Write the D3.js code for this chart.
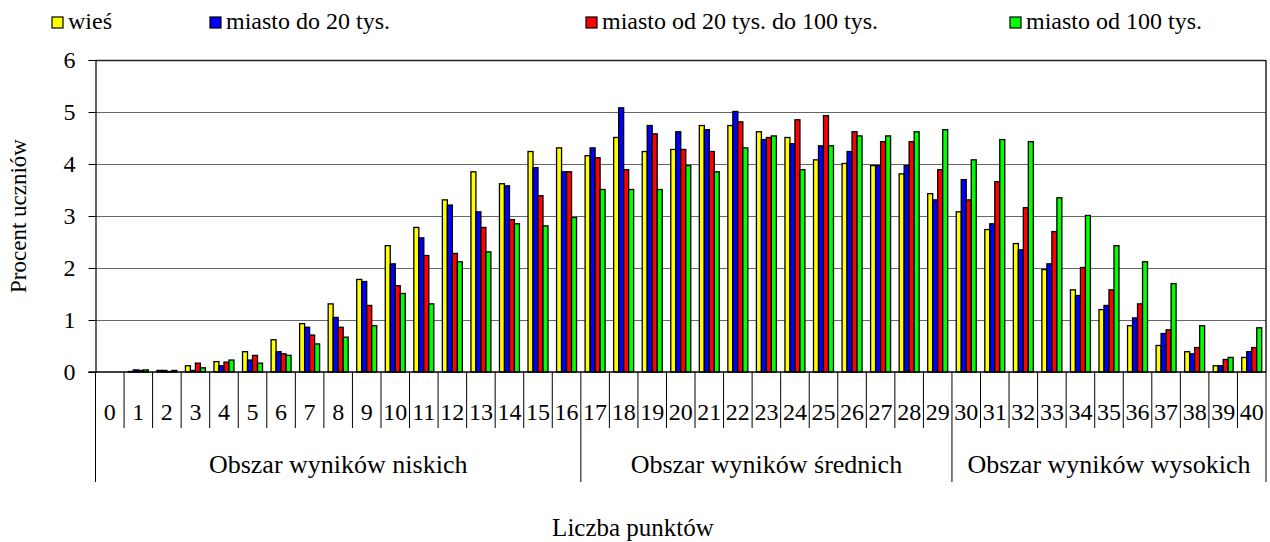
<!DOCTYPE html>
<html>
<head>
<meta charset="utf-8">
<script src="https://cdn.jsdelivr.net/npm/d3@7"></script>
<style>
    body { margin: 0; background: #fff; }
    #chart { width: 1270px; height: 542px; }
    svg text { font-family: "Liberation Serif", "Times New Roman", serif !important; fill: #000; }
</style>
</head>
<body>
<div id="chart"></div>
<script>
// punkty 0..40
let categories = ["0","1","2","3","4","5","6","7","8","9","10","11","12","13","14","15","16","17","18","19","20",
    "21","22","23","24","25","26","27","28","29","30","31","32","33","34","35","36","37","38","39","40"];

let seriesNames = ["wieś", "miasto do 20 tys.", "miasto od 20 tys. do 100 tys.", "miasto od 100 tys."];
let seriesColors = ["#ffff00", "#0000ff", "#ff0000", "#00ff00"];

let wies = [0, 0.01, 0.03, 0.12, 0.20, 0.39, 0.62, 0.93, 1.31, 1.78, 2.43, 2.78, 3.31, 3.85, 3.62, 4.24, 4.31,
    4.16, 4.51, 4.24, 4.28, 4.74, 4.74, 4.62, 4.51, 4.08, 4.01, 3.97, 3.81, 3.43,
    3.08, 2.74, 2.47, 1.97, 1.58, 1.20, 0.89, 0.51, 0.39, 0.12, 0.28];
let miastoDo20 = [0, 0.04, 0.03, 0.03, 0.12, 0.23, 0.39, 0.86, 1.05, 1.74, 2.08, 2.58, 3.21, 3.08, 3.58, 3.93, 3.85,
    4.31, 5.08, 4.74, 4.62, 4.66, 5.01, 4.47, 4.39, 4.35, 4.24, 3.97, 3.97, 3.31,
    3.70, 2.85, 2.35, 2.08, 1.47, 1.28, 1.04, 0.74, 0.35, 0.12, 0.39];
let miasto20do100 = [0, 0.03, 0.01, 0.17, 0.19, 0.32, 0.35, 0.71, 0.86, 1.28, 1.66, 2.24, 2.28, 2.78, 2.93, 3.39, 3.85,
    4.12, 3.89, 4.58, 4.28, 4.24, 4.81, 4.51, 4.85, 4.93, 4.62, 4.43, 4.43, 3.89,
    3.31, 3.66, 3.16, 2.70, 2.01, 1.58, 1.31, 0.81, 0.47, 0.24, 0.47];
let miastoOd100 = [0, 0.04, 0.03, 0.08, 0.23, 0.17, 0.32, 0.54, 0.67, 0.89, 1.51, 1.31, 2.12, 2.31, 2.85, 2.81, 2.97,
    3.51, 3.51, 3.51, 3.97, 3.85, 4.31, 4.54, 3.89, 4.35, 4.54, 4.54, 4.62, 4.66,
    4.08, 4.47, 4.43, 3.35, 3.01, 2.43, 2.12, 1.70, 0.89, 0.28, 0.85];

let yTicks = [0, 1, 2, 3, 4, 5, 6];

let groupLabels = ["Obszar wyników niskich", "Obszar wyników średnich", "Obszar wyników wysokich"];
let groupFirst = ["0", "17", "30"];
let groupLast = ["16", "29", "40"];

let yTitle = "Procent uczniów";
let xTitle = "Liczba punktów";

const SERIF = "'Liberation Serif', 'Times New Roman', serif";


class GroupedBarVis {
    constructor(parentElement) {
        this.parentElement = parentElement;
        this.series = [wies, miastoDo20, miasto20do100, miastoOd100];
    }

    initVis() {
        let vis = this;

        vis.margin = {top: 60, right: 4, bottom: 170, left: 95.5};
        vis.width = 1270 - vis.margin.left - vis.margin.right;
        vis.height = 542 - vis.margin.top - vis.margin.bottom;

        vis.root = d3.select("#" + vis.parentElement).append("svg")
            .attr("width", 1270)
            .attr("height", 542);

        vis.svg = vis.root.append("g")
            .attr("transform", "translate(" + vis.margin.left + "," + vis.margin.top + ")");

        vis.x = d3.scaleBand()
            .domain(categories)
            .range([0, vis.width]);

        vis.y = d3.scaleLinear()
            .domain([0, 6])
            .range([vis.height, 0]);

        vis.wrangleData();
    }

    wrangleData() {
        let vis = this;

        vis.displayData = [];
        categories.forEach((c, i) => {
            vis.series.forEach((s, k) => {
                vis.displayData.push({cat: c, k: k, value: s[i]});
            });
        });

        vis.updateVis();
    }

    updateVis() {
        let vis = this;
        let bw = vis.x.bandwidth();
        let step = bw * 0.175;

        // siatka
        vis.svg.append("g")
            .selectAll("line")
            .data(yTicks.slice(1))
            .enter()
            .append("line")
            .attr("x1", 0)
            .attr("x2", vis.width)
            .attr("y1", d => Math.round(vis.y(d)) + 0.5)
            .attr("y2", d => Math.round(vis.y(d)) + 0.5)
            .attr("stroke", d => d === 6 ? "#222" : "#666")
            .attr("stroke-width", d => d === 6 ? 1.5 : 1);

        vis.svg.append("line")
            .attr("x1", vis.width).attr("x2", vis.width)
            .attr("y1", 0).attr("y2", vis.height)
            .attr("stroke", "#222")
            .attr("stroke-width", 1.5);

        // słupki
        vis.svg.append("g")
            .selectAll("rect")
            .data(vis.displayData)
            .enter()
            .append("rect")
            .attr("x", d => vis.x(d.cat) + bw / 2 - 2 * step + d.k * step)
            .attr("y", d => vis.y(d.value))
            .attr("width", step)
            .attr("height", d => vis.y(0) - vis.y(d.value))
            .attr("fill", d => seriesColors[d.k])
            .attr("stroke", "#000")
            .attr("stroke-width", 1.3);

        // oś Y
        let yAxis = vis.svg.append("g")
            .attr("class", "y-axis")
            .call(d3.axisLeft(vis.y).tickValues(yTicks).tickSize(7).tickPadding(13).tickFormat(d3.format("d")));
        yAxis.attr("font-family", SERIF);
        yAxis.select(".domain").attr("stroke", "#000").attr("stroke-width", 1.2);
        yAxis.selectAll(".tick line").attr("stroke", "#000");
        yAxis.selectAll(".tick text")
            .attr("font-family", SERIF)
            .style("font-size", "24px");

        // oś X: linia zero
        vis.svg.append("line")
            .attr("x1", -7).attr("x2", vis.width)
            .attr("y1", vis.height).attr("y2", vis.height)
            .attr("stroke", "#000")
            .attr("stroke-width", 1.5);

        let bounds = categories.concat(["end"]);
        let starts = new Set(groupFirst);
        let xPos = c => c === "end" ? vis.width : vis.x(c);

        vis.svg.append("g")
            .selectAll("line")
            .data(bounds)
            .enter()
            .append("line")
            .attr("x1", d => xPos(d))
            .attr("x2", d => xPos(d))
            .attr("y1", vis.height)
            .attr("y2", d => (starts.has(d) || d === "end") ? vis.height + 110 : vis.height + 56)
            .attr("stroke", "#000")
            .attr("stroke-width", 1);

        vis.svg.append("g")
            .selectAll("text")
            .data(categories)
            .enter()
            .append("text")
            .attr("x", d => vis.x(d) + bw / 2)
            .attr("y", vis.height + 48)
            .attr("text-anchor", "middle")
            .attr("font-family", SERIF)
            .style("font-size", "24px")
            .text(d => d);

        vis.svg.append("g")
            .selectAll("text")
            .data(groupLabels)
            .enter()
            .append("text")
            .attr("x", (d, i) => (vis.x(groupFirst[i]) + vis.x(groupLast[i]) + bw) / 2)
            .attr("y", vis.height + 101)
            .attr("text-anchor", "middle")
            .attr("font-family", SERIF)
            .style("font-size", "26px")
            .text(d => d);

        // tytuły osi
        vis.root.append("text")
            .attr("transform", "translate(26," + (vis.margin.top + vis.height / 2) + ") rotate(-90)")
            .attr("text-anchor", "middle")
            .attr("font-family", SERIF)
            .style("font-size", "23px")
            .text(yTitle);

        vis.root.append("text")
            .attr("x", 633)
            .attr("y", 536)
            .attr("text-anchor", "middle")
            .attr("font-family", SERIF)
            .style("font-size", "25px")
            .text(xTitle);

        // legenda
        let legendX = [52, 210, 586, 1010];
        let legend = vis.root.append("g")
            .selectAll("g")
            .data(seriesNames)
            .enter()
            .append("g")
            .attr("transform", (d, i) => "translate(" + legendX[i] + ",17)");
        legend.append("rect")
            .attr("width", 11)
            .attr("height", 11)
            .attr("fill", (d, i) => seriesColors[i])
            .attr("stroke", "#000")
            .attr("stroke-width", 1.2);
        legend.append("text")
            .attr("x", 16)
            .attr("y", 12)
            .attr("font-family", SERIF)
            .style("font-size", "24px")
            .text(d => d);
    }
}

let chart = new GroupedBarVis("chart");
chart.initVis();
</script>
</body>
</html>
